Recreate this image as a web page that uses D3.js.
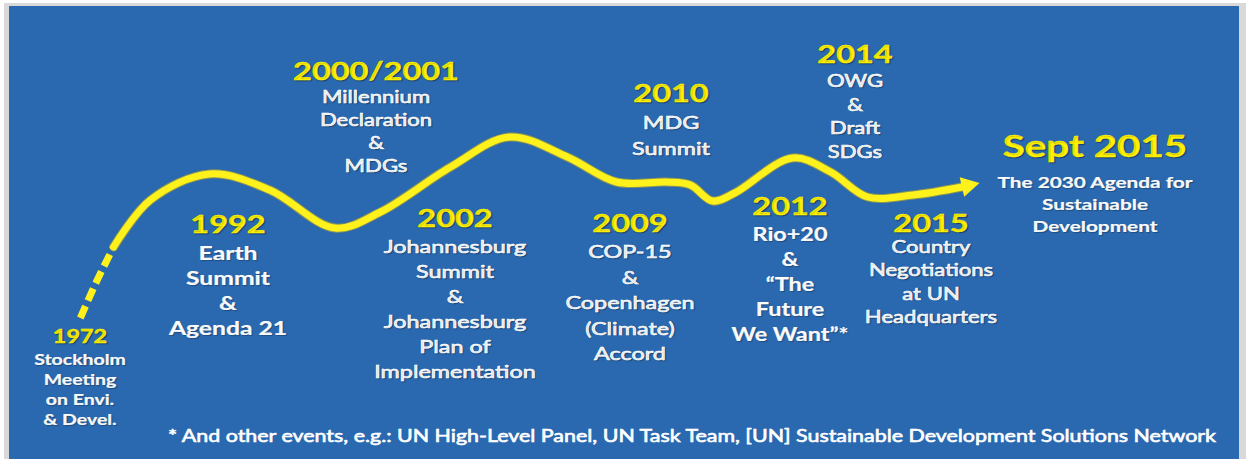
<!DOCTYPE html>
<html>
<head>
<meta charset="utf-8">
<script src="https://cdn.jsdelivr.net/npm/d3@7"></script>
<style>
  body { margin: 0; background: #fff; }
  svg text { font-family: Lato, "Open Sans", sans-serif; }
</style>
</head>
<body>
<script>
// timeline data
var years = ["1972", "1992", "2000/2001", "2002", "2009", "2010", "2012", "2014", "2015", "Sept 2015"];
var descriptions = [
  ["Stockholm", "Meeting", "on Envi.", "& Devel."],
  ["Earth", "Summit", "&", "Agenda 21"],
  ["Millennium", "Declaration", "&", "MDGs"],
  ["Johannesburg", "Summit", "&", "Johannesburg", "Plan of", "Implementation"],
  ["COP-15", "&", "Copenhagen", "(Climate)", "Accord"],
  ["MDG", "Summit"],
  ["Rio+20", "&", "\u201CThe", "Future", "We Want\u201D*"],
  ["OWG", "&", "Draft", "SDGs"],
  ["Country", "Negotiations", "at UN", "Headquarters"],
  ["The 2030 Agenda for", "Sustainable", "Development"]
];
var footnote = "* And other events, e.g.: UN High-Level Panel, UN Task Team, [UN] Sustainable Development Solutions Network";

// the path of the timeline (position along the panel, level above the base)
var dashPos = [5.8, 7.1, 8.5];
var dashLevel = [6, 24, 41.5];
var pathPos = [8.5, 11.5, 16.3, 21.2, 26.5, 30.2, 35.9, 40.7, 45.4, 49.4, 53.5, 55.4, 57.2, 59.0, 63.7, 66.8, 69.8, 73.5, 77.5, 78.9];
var pathLevel = [41.5, 65, 78, 70, 51, 59, 81.5, 96.5, 86.5, 74, 74, 72.5, 64.5, 68.5, 86, 79, 66.5, 67.5, 71.5, 73.5];

// label layout: centre x, year baseline, year size, first line baseline, line gap, line size, weight
var layout = [
  [80, 343, 18, 365, 20, 15, 700],
  [228, 233, 25, 260, 25, 19, 700],
  [376, 80, 25, 103, 23, 17, 400],
  [455, 227, 25, 253, 25, 18, 400],
  [630, 232, 25, 258, 25.5, 18, 400],
  [671, 102, 25, 129, 26, 18, 400],
  [790, 215, 25, 241, 25, 18, 700],
  [855, 63, 25, 87, 23.5, 17, 400],
  [931, 232, 25, 253, 23.3, 17, 400],
  [1095, 157, 31, 188, 22, 16, 700]
];
var stretch = 1.3; // the picture is wider than the type

var w = 1247, h = 459;
var svg = d3.select("body").append("svg")
    .attr("width", w)
    .attr("height", h);

// panel shadow + panel
svg.append("rect").attr("x", 4).attr("y", 3).attr("width", 1242).attr("height", 470)
    .style("fill", "#d9d9d9");
svg.append("rect").attr("x", 9).attr("y", 6).attr("width", 1230).attr("height", 470)
    .style("fill", "#2a69b0");

var x = d3.scaleLinear().domain([0, 100]).range([9, 1239]);
var y = d3.scaleLinear().domain([0, 100]).range([330, 130]);

var line = d3.line()
    .x(function(d){ return x(d[0]); })
    .y(function(d){ return y(d[1]); })
    .curve(d3.curveCatmullRom.alpha(0.5));

var solid = pathPos.map(function(p, i){ return [p, pathLevel[i]]; });
var dashed = dashPos.map(function(p, i){ return [p, dashLevel[i]]; });

// glow under the line
svg.append("path").datum(solid.slice(0, -1))
    .attr("d", line)
    .style("fill", "none").style("stroke", "#c9b21a").style("stroke-width", 9)
    .style("stroke-linecap", "round").style("opacity", 0.6);
svg.append("path").datum(solid.slice(0, -1))
    .attr("d", line)
    .style("fill", "none").style("stroke", "#fff21c").style("stroke-width", 7)
    .style("stroke-linecap", "round");
svg.append("path").datum(dashed)
    .attr("d", line)
    .style("fill", "none").style("stroke", "#fff21c").style("stroke-width", 7)
    .style("stroke-dasharray", "13 6");

// arrow head
var tip = solid[solid.length - 1], prev = solid[solid.length - 2];
var tx = x(tip[0]), ty = y(tip[1]);
var ang = Math.atan2(ty - y(prev[1]), tx - x(prev[0]));
var len = 18, half = 10;
var bx = tx - len * Math.cos(ang), by = ty - len * Math.sin(ang);
svg.append("path")
    .attr("d", "M" + tx + "," + ty +
      "L" + (bx + half * Math.sin(ang)) + "," + (by - half * Math.cos(ang)) +
      "L" + (bx - half * Math.sin(ang)) + "," + (by + half * Math.cos(ang)) + "Z")
    .style("fill", "#fff21c");

// labels
var groups = svg.selectAll(".event")
    .data(years)
    .enter()
    .append("g")
    .attr("class", "event");

groups.append("text")
    .attr("transform", function(d, i){ return "translate(" + layout[i][0] + "," + layout[i][1] + ") scale(" + stretch + ",1)"; })
    .attr("text-anchor", "middle")
    .style("font-size", function(d, i){ return layout[i][2] + "px"; })
    .style("font-weight", 700)
    .style("fill", "#fff200")
    .style("stroke", "#fff200").style("stroke-width", 0.4)
    .style("text-shadow", "1px 1px 1px rgba(0,0,0,0.35)")
    .text(function(d){ return d; });

groups.each(function(d, i){
  var L = layout[i];
  d3.select(this).selectAll(".desc")
    .data(descriptions[i])
    .enter()
    .append("text")
    .attr("class", "desc")
    .attr("transform", function(t, j){ return "translate(" + L[0] + "," + (L[3] + j * L[4]) + ") scale(" + stretch + ",1)"; })
    .attr("text-anchor", "middle")
    .style("font-size", L[5] + "px")
    .style("font-weight", L[6])
    .style("fill", "#ffffff")
    .style("stroke", "#ffffff").style("stroke-width", L[6] < 700 ? 0.6 : 0.2)
    .style("text-shadow", "1px 1px 1px rgba(0,0,0,0.25)")
    .text(function(t){ return t; });
});

svg.append("text")
    .attr("x", 168).attr("y", 442)
    .attr("textLength", 1048).attr("lengthAdjust", "spacingAndGlyphs")
    .style("font-size", "17px")
    .style("font-weight", 400)
    .style("fill", "#ffffff")
    .style("stroke", "#ffffff").style("stroke-width", 0.6)
    .text(footnote);
</script>
</body>
</html>
